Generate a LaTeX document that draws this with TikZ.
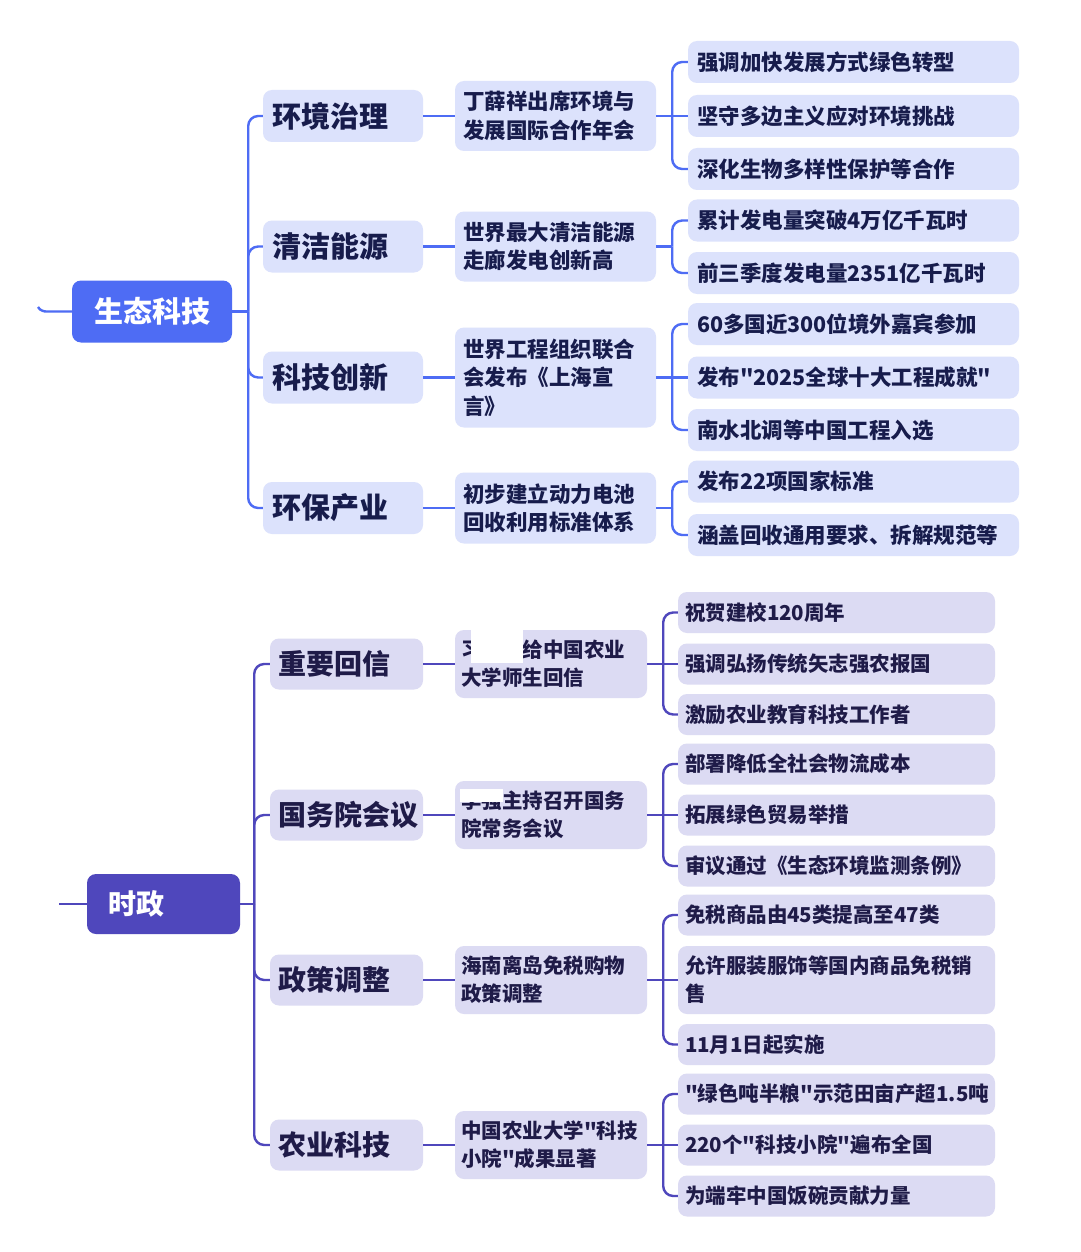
\documentclass[tikz,border=0pt]{standalone}
\usepackage{fontspec}
\setmainfont{Noto Sans CJK SC}[Ligatures=TeXOff]
\usetikzlibrary{calc}
\definecolor{broot}{HTML}{4E6CF4}
\definecolor{bfill}{HTML}{DCE2FC}
\definecolor{btext}{HTML}{171C4C}
\definecolor{proot}{HTML}{4F47BC}
\definecolor{pfill}{HTML}{DCDBF3}
\definecolor{ptext}{HTML}{1F1B48}
\tikzset{
  bconn/.style={draw=broot, line width=2.4pt, rounded corners=10pt},
  pconn/.style={draw=proot, line width=2.4pt, rounded corners=10pt},
  broottop/.style={fill=broot, rounded corners=9pt, text=white, font=\bfseries\fontsize{29}{34}\selectfont, minimum width=160pt, minimum height=62pt, inner sep=0pt},
  proottop/.style={fill=proot, rounded corners=9pt, text=white, font=\bfseries\fontsize{28}{34}\selectfont, text width=111pt, align=left, inner xsep=21pt, minimum height=60pt},
  bone/.style={fill=bfill, rounded corners=9pt, text=btext, font=\bfseries\fontsize{29}{34}\selectfont, text width=142pt, align=left, inner xsep=9pt, minimum height=52pt},
  btwo/.style={fill=bfill, rounded corners=9pt, text=btext, font=\bfseries\fontsize{21.5}{28.5}\selectfont, text width=185pt, align=left, inner xsep=8pt, minimum height=#1},
  bthree/.style={fill=bfill, rounded corners=9pt, text=btext, font=\bfseries\fontsize{21.5}{28}\selectfont, text width=313pt, align=left, inner xsep=9pt, minimum height=42pt},
  pone/.style={fill=pfill, rounded corners=9pt, text=ptext, font=\bfseries\fontsize{28}{34}\selectfont, text width=137pt, align=left, inner xsep=8pt, minimum height=51pt},
  ptwo/.style={fill=pfill, rounded corners=9pt, text=ptext, font=\bfseries\fontsize{20.5}{28}\selectfont, text width=180pt, align=left, inner xsep=6pt, minimum height=68pt},
  pthree/.style={fill=pfill, rounded corners=9pt, text=ptext, font=\bfseries\fontsize{20.5}{28}\selectfont, text width=303pt, align=left, inner xsep=7pt, minimum height=#1},
  pthree/.default=41pt
}
\begin{document}
\begin{tikzpicture}[x=1pt,y=-1pt]
\useasboundingbox[fill=white] (0,0) rectangle (1080,1252);

% ---------- top section ----------
\node[broottop] (r1) at (152,311.5) {生态科技};
\node[bone] (a1) at (343,116) {环境治理};
\node[bone] (a2) at (343,246.5) {清洁能源};
\node[bone] (a3) at (343,377.5) {科技创新};
\node[bone] (a4) at (343,508) {环保产业};

\node[btwo=70pt] (b1) at (555.5,116) {丁薛祥出席环境与\\发展国际合作年会};
\node[btwo=70pt] (b2) at (555.5,246.5) {世界最大清洁能源\\走廊发电创新高};
\node[btwo=100pt] (b3) at (555.5,377.5) {世界工程组织联合\\会发布《上海宣\\言》};
\node[btwo=71pt] (b4) at (555.5,508) {初步建立动力电池\\回收利用标准体系};

\node[bthree] (c1) at (853.5,62) {强调加快发展方式绿色转型};
\node[bthree] (c2) at (853.5,116) {坚守多边主义应对环境挑战};
\node[bthree] (c3) at (853.5,169) {深化生物多样性保护等合作};
\node[bthree] (c4) at (853.5,220.5) {累计发电量突破4万亿千瓦时};
\node[bthree] (c5) at (853.5,273) {前三季度发电量2351亿千瓦时};
\node[bthree] (c6) at (853.5,324) {60多国近300位境外嘉宾参加};
\node[bthree] (c7) at (853.5,377.5) {发布"2025全球十大工程成就"};
\node[bthree] (c8) at (853.5,430) {南水北调等中国工程入选};
\node[bthree] (c9) at (853.5,481.5) {发布22项国家标准};
\node[bthree] (c10) at (853.5,535) {涵盖回收通用要求、拆解规范等};

\coordinate (s1) at (38,307);
\draw[bconn] (s1) .. controls (40,311) and (45,311.5) .. (56,311.5) -- (r1.west);
\coordinate (j1) at ($(r1.east)+(16,0)$);
\draw[bconn] (r1.east) -- (j1);
\foreach \n in {a1,a2,a3,a4}{\draw[bconn] (j1) |- (\n.west);}
\draw[bconn] (a1.east) -- (b1.west);
\draw[bconn] (a2.east) -- (b2.west);
\draw[bconn] (a3.east) -- (b3.west);
\draw[bconn] (a4.east) -- (b4.west);
% b1
\draw[bconn] (b1.east) -- (c2.west);
\coordinate (jb1) at ($(b1.east)+(16,0)$);
\foreach \n in {c1,c3}{\draw[bconn] (jb1) |- (\n.west);}
% b2
\coordinate (jb2) at ($(b2.east)+(16,0)$);
\draw[bconn] (b2.east) -- (jb2);
\foreach \n in {c4,c5}{\draw[bconn] (jb2) |- (\n.west);}
% b3
\draw[bconn] (b3.east) -- (c7.west);
\coordinate (jb3) at ($(b3.east)+(16,0)$);
\foreach \n in {c6,c8}{\draw[bconn] (jb3) |- (\n.west);}
% b4
\coordinate (jb4) at ($(b4.east)+(16,0)$);
\draw[bconn] (b4.east) -- (jb4);
\foreach \n in {c9,c10}{\draw[bconn] (jb4) |- (\n.west);}

% ---------- bottom section ----------
\node[proottop] (r2) at (163.5,904) {时政};
\node[pone] (d1) at (346.5,664) {重要回信};
\node[pone] (d2) at (346.5,815) {国务院会议};
\node[pone] (d3) at (346.5,980) {政策调整};
\node[pone] (d4) at (346.5,1145) {农业科技};

\node[ptwo] (e1) at (551,664) {习近平给中国农业\\大学师生回信};
\node[ptwo] (e2) at (551,815) {李强主持召开国务\\院常务会议};
\node[ptwo] (e3) at (551,980) {海南离岛免税购物\\政策调整};
\node[ptwo] (e4) at (551,1145) {中国农业大学"科技\\小院"成果显著};

\node[pthree] (f1) at (836.5,612.5) {祝贺建校120周年};
\node[pthree] (f2) at (836.5,664) {强调弘扬传统矢志强农报国};
\node[pthree] (f3) at (836.5,714.5) {激励农业教育科技工作者};
\node[pthree] (f4) at (836.5,764) {部署降低全社会物流成本};
\node[pthree] (f5) at (836.5,815) {拓展绿色贸易举措};
\node[pthree] (f6) at (836.5,866) {审议通过《生态环境监测条例》};
\node[pthree] (f7) at (836.5,915) {免税商品由45类提高至47类};
\node[pthree=68pt] (f8) at (836.5,980) {允许服装服饰等国内商品免税销\\售};
\node[pthree] (f9) at (836.5,1044.5) {11月1日起实施};
\node[pthree] (f10) at (836.5,1094) {"绿色吨半粮"示范田亩产超1.5吨};
\node[pthree] (f11) at (836.5,1145) {220个"科技小院"遍布全国};
\node[pthree] (f12) at (836.5,1196) {为端牢中国饭碗贡献力量};

% redaction patches as in the picture
\fill[white] (471,630) rectangle (523,663);
\fill[white] (460,789) rectangle (503,802);

\coordinate (s2) at (59,904);
\draw[pconn] (s2) -- (r2.west);
\coordinate (j2) at ($(r2.east)+(14,0)$);
\draw[pconn] (r2.east) -- (j2);
\foreach \n in {d1,d2,d3,d4}{\draw[pconn] (j2) |- (\n.west);}
\draw[pconn] (d1.east) -- (e1.west);
\draw[pconn] (d2.east) -- (e2.west);
\draw[pconn] (d3.east) -- (e3.west);
\draw[pconn] (d4.east) -- (e4.west);
\coordinate (je1) at ($(e1.east)+(16,0)$);
\coordinate (je2) at ($(e2.east)+(16,0)$);
\coordinate (je3) at ($(e3.east)+(16,0)$);
\coordinate (je4) at ($(e4.east)+(16,0)$);
\draw[pconn] (e1.east) -- (f2.west);
\foreach \n in {f1,f3}{\draw[pconn] (je1) |- (\n.west);}
\draw[pconn] (e2.east) -- (f5.west);
\foreach \n in {f4,f6}{\draw[pconn] (je2) |- (\n.west);}
\draw[pconn] (e3.east) -- (f8.west);
\foreach \n in {f7,f9}{\draw[pconn] (je3) |- (\n.west);}
\draw[pconn] (e4.east) -- (f11.west);
\foreach \n in {f10,f12}{\draw[pconn] (je4) |- (\n.west);}
\end{tikzpicture}
\end{document}
